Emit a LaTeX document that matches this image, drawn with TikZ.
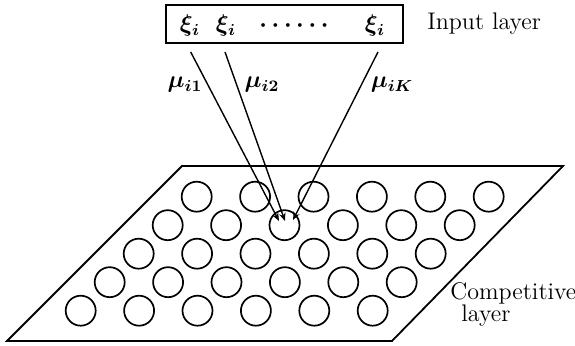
\documentclass[tikz,border=0pt]{standalone}
\usetikzlibrary{arrows.meta}
\begin{document}
\begin{tikzpicture}[x=0.5pt,y=-0.5pt,
  unit/.style={circle,draw,line width=0.85pt,minimum size=15pt,inner sep=0pt},
  mlabel/.style={font=\fontsize{12}{14}\selectfont\boldmath,inner sep=0pt,anchor=base},
  tlabel/.style={font=\fontsize{12}{14}\selectfont,inner sep=0pt,anchor=base west},
  link/.style={line width=0.7pt,-{Stealth[length=4pt,width=3.2pt]}}]
\useasboundingbox (0,0) rectangle (575,346);
% competitive layer plane
\draw[line width=0.9pt] (182,166) -- (563,166) -- (392,341) -- (7,341) -- cycle;
\foreach \k in {0,...,4}
  \foreach \j in {0,...,5}
    \node[unit] (c\k\j) at ({196.7-29*\k+58.4*\j},{196.7+28.5*\k}) {};
% input layer box
\node[draw,line width=1pt,minimum width=118.5pt,minimum height=19pt,inner sep=0pt] (inbox) at (284.5,23.8) {};
\node[mlabel] (x1) at (190,32) {$\xi_i$};
\node[mlabel] (x2) at (226,32) {$\xi_i$};
\node[mlabel] (dots) at (294,32) {$\cdots\cdots$};
\node[mlabel] (x3) at (375,32) {$\xi_i$};
\node[tlabel] (inlab) at (427,30) {Input layer};
% weights
\coordinate (s1) at (190.7,52);
\coordinate (s2) at (225,52);
\coordinate (s3) at (378,52);
\coordinate (t1) at (279,221);
\coordinate (t2) at (285,221);
\coordinate (t3) at (293,220);
\draw[link] (s1) -- (t1);
\draw[link] (s2) -- (t2);
\draw[link] (s3) -- (t3);
\node[mlabel] (m1) at (185,88) {$\mu_{i1}$};
\node[mlabel] (m2) at (262,88) {$\mu_{i2}$};
\node[mlabel] (m3) at (392,88) {$\mu_{iK}$};
\node[tlabel] (comp) at (450,300) {Competitive};
\node[tlabel] (lay) at (461,322) {layer};
\end{tikzpicture}
\end{document}
